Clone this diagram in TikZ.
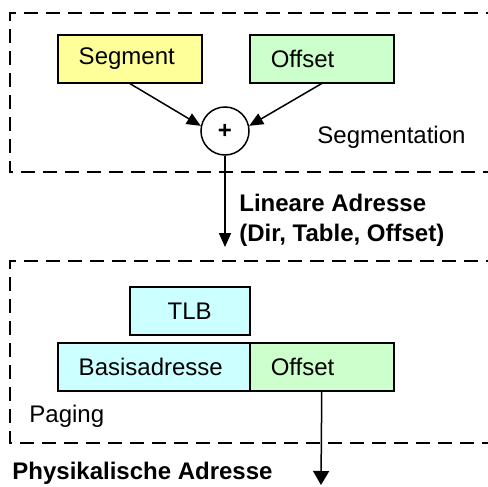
\documentclass[tikz,border=0pt]{standalone}
\usepackage{fontspec}
\setmainfont{Liberation Sans}
\usetikzlibrary{arrows.meta}
\definecolor{segyellow}{HTML}{FFFF99}
\definecolor{offgreen}{HTML}{CCFFCC}
\definecolor{pagecyan}{HTML}{CCFFFF}
\begin{document}
\begin{tikzpicture}[x=0.5pt,y=-0.5pt,
  font=\fontsize{12pt}{15pt}\selectfont,
  field/.style={draw, line width=0.75pt, anchor=north west, minimum height=24pt,
    inner xsep=10.5pt, inner ysep=0pt, align=left},
  group/.style={draw, line width=1pt, dash pattern=on 7pt off 4pt},
  flow/.style={line width=0.75pt, -{Triangle[length=7pt,width=6pt]}},
  caption/.style={anchor=west, inner sep=0pt}]
  \useasboundingbox (0,0) rectangle (488,487);

  % dashed group frames (right edges run off the page)
  \draw[group] (500,13) -- (10,13) -- (10,172) -- (500,172);
  \draw[group] (500,261) -- (10,261) -- (10,443) -- (500,443);

  % segmentation stage
  \node[field, fill=segyellow, text width=51pt] (seg) at (57,34) {Segment};
  \node[field, fill=offgreen, text width=51pt] (off1) at (249,34) {Offset};
  \node[draw, circle, line width=0.75pt, minimum size=24pt, inner sep=0pt,
    font=\fontsize{12pt}{14pt}\selectfont\bfseries] (plus) at (225,131) {+};
  \node[caption] (segtxt) at (317,137) {Segmentation};
  \draw[flow] (seg.south) -- (plus.168);
  \draw[flow] (off1.south) -- (plus.12);

  % linear address
  \coordinate (lin) at (225,247);
  \draw[flow] (plus.south) -- (lin);
  \node[caption, align=left, font=\fontsize{12pt}{15pt}\selectfont\bfseries] (lintxt) at (239,220)
    {Lineare Adresse\\(Dir, Table, Offset)};

  % paging stage
  \node[field, fill=pagecyan, text width=39pt, align=center, inner xsep=10.5pt] (tlb) at (129,286) {TLB};
  \node[field, fill=pagecyan, text width=75pt] (base) at (57,342) {Basisadresse};
  \node[field, fill=offgreen, text width=51pt] (off2) at (249,342) {Offset};
  \node[caption] (pagtxt) at (29,416) {Paging};

  % physical address
  \coordinate (phys) at (321,485);
  \draw[flow, -{Triangle[length=7pt,width=8pt]}] (off2.south) -- (phys);
  \node[caption, font=\fontsize{12pt}{15pt}\selectfont\bfseries] (phystxt) at (12,473) {Physikalische Adresse};
\end{tikzpicture}
\end{document}
